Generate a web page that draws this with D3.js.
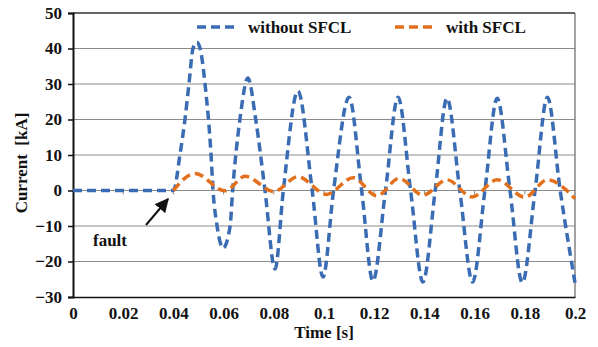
<!DOCTYPE html>
<html>
<head>
<meta charset="utf-8">
<script src="https://cdn.jsdelivr.net/npm/d3@7"></script>
<style>
  body { margin: 0; background: #fff; }
  text { font-family: "Liberation Serif", "Times New Roman", serif; font-weight: bold; fill: #111; }
</style>
</head>
<body>
<div id="viz"></div>
<script>
// data: [time s, current kA]
var seriesNames = ["without SFCL", "with SFCL"];
var seriesColors = ["#3a6cb4", "#e2701c"];

var withoutSFCL = [
	[0, 0], [0.04, 0], [0.0426, 10], [0.0446, 20], [0.0462, 30], [0.0478, 40], [0.0494, 41.8],
	[0.0512, 38], [0.0526, 30], [0.055, 10], [0.0558, 0], [0.0574, -10], [0.0598, -16.2],
	[0.0626, -10], [0.0636, 0], [0.0665, 20], [0.0697, 31.7], [0.0728, 20], [0.0765, 0],
	[0.0805, -22.1], [0.0838, 0], [0.0896, 28], [0.0953, 0], [0.0996, -24.4], [0.1038, 0],
	[0.1100, 26.3], [0.1150, 0], [0.1195, -25.5], [0.1245, 0], [0.1295, 26.3], [0.1345, 0],
	[0.1394, -25.8], [0.1443, 0], [0.149, 26], [0.1541, 0], [0.1592, -25.8], [0.1641, 0],
	[0.169, 26], [0.1741, 0], [0.179, -26], [0.1841, 0], [0.189, 26.3], [0.1941, 0], [0.2, -26]
];

var withSFCL = [
	[0.04, 0], [0.0486, 4.8], [0.0606, -0.1], [0.0686, 4.0], [0.0800, -0.3], [0.0896, 3.9],
	[0.1010, -1.1], [0.1116, 3.6], [0.1210, -1.5], [0.1300, 3.4], [0.1394, -1.3], [0.149, 3.0],
	[0.159, -1.8], [0.169, 3.0], [0.180, -1.9], [0.189, 3.0], [0.2, -2.3]
];

var xTicks = [0, 0.02, 0.04, 0.06, 0.08, 0.1, 0.12, 0.14, 0.16, 0.18, 0.2];
var yTicks = [-30, -20, -10, 0, 10, 20, 30, 40, 50];

function drawChart(){

	var width = 598, height = 347;
	var left = 73, right = 575, top = 13, bottom = 297;

	var svg = d3.select("#viz")
		.append("svg")
		.attr("width", width)
		.attr("height", height);

	var x = d3.scaleLinear().domain([0, 0.2]).range([left, right]);
	var y = d3.scaleLinear().domain([-30, 50]).range([bottom, top]);

	// horizontal grid lines
	svg.append("g")
		.selectAll("line")
		.data(yTicks.filter(function(d){ return d > -30 && d < 50; }))
		.enter().append("line")
		.attr("x1", left).attr("x2", right)
		.attr("y1", function(d){ return y(d); })
		.attr("y2", function(d){ return y(d); })
		.style("stroke", "#8c8c8c")
		.style("stroke-width", 1.2);

	// small ticks hanging under the zero line
	svg.append("g")
		.selectAll("line")
		.data(xTicks.slice(1, -1))
		.enter().append("line")
		.attr("x1", function(d){ return x(d); })
		.attr("x2", function(d){ return x(d); })
		.attr("y1", y(0)).attr("y2", y(0) + 4)
		.style("stroke", "#8c8c8c")
		.style("stroke-width", 1);

	// frame: top and right
	svg.append("line")
		.attr("x1", left).attr("x2", right).attr("y1", y(50)).attr("y2", y(50))
		.style("stroke", "#333").style("stroke-width", 1.5);
	svg.append("line")
		.attr("x1", right).attr("x2", right).attr("y1", top).attr("y2", bottom)
		.style("stroke", "#666").style("stroke-width", 1.2);

	// y axis
	var yAxis = d3.axisLeft(y).tickValues(yTicks).tickSize(5).tickPadding(6);
	var gy = svg.append("g").attr("transform", "translate(" + left + ",0)").call(yAxis);
	gy.select(".domain").style("stroke", "#111").style("stroke-width", 2);
	gy.selectAll(".tick line").style("stroke", "#111").style("stroke-width", 1.5);
	gy.selectAll(".tick text").style("font-size", "17px").style("font-family", "Liberation Serif").style("font-weight", "bold").attr("fill", "#111");

	// x axis
	var xAxis = d3.axisBottom(x).tickValues(xTicks).tickSize(0).tickPadding(10)
		.tickFormat(function(d){ return d3.format("~g")(d); });
	var gx = svg.append("g").attr("transform", "translate(0," + bottom + ")").call(xAxis);
	gx.select(".domain").style("stroke", "#111").style("stroke-width", 1.5);
	gx.selectAll(".tick text").style("font-size", "17px").style("font-family", "Liberation Serif").style("font-weight", "bold").attr("fill", "#111");

	// axis titles
	svg.append("text")
		.attr("x", (left + right) / 2).attr("y", 338)
		.attr("text-anchor", "middle")
		.style("font-size", "17px")
		.text("Time [s]");
	svg.append("text")
		.attr("transform", "translate(27,163) rotate(-90)")
		.attr("text-anchor", "middle")
		.style("font-size", "17px")
		.style("white-space", "pre")
		.text("Current  [kA]");

	// series
	var line = d3.line()
		.x(function(d){ return x(d[0]); })
		.y(function(d){ return y(d[1]); })
		.curve(d3.curveMonotoneX);

	[withoutSFCL, withSFCL].forEach(function(data, i){
		svg.append("path")
			.datum(data)
			.attr("d", line)
			.style("fill", "none")
			.style("stroke", seriesColors[i])
			.style("stroke-width", 3.5)
			.style("stroke-dasharray", "9,5");
	});

	// legend
	var legendX = [197, 395];
	seriesNames.forEach(function(name, i){
		svg.append("line")
			.attr("x1", legendX[i]).attr("x2", legendX[i] + 42)
			.attr("y1", 27).attr("y2", 27)
			.style("stroke", seriesColors[i])
			.style("stroke-width", 3.5)
			.style("stroke-dasharray", "9,5");
		svg.append("text")
			.attr("x", legendX[i] + 51).attr("y", 33)
			.style("font-size", "17px")
			.text(name);
	});

	// fault annotation
	svg.append("defs").append("marker")
		.attr("id", "arrowHead")
		.attr("viewBox", "0 0 10 10")
		.attr("refX", 9).attr("refY", 5)
		.attr("markerWidth", 7).attr("markerHeight", 7)
		.attr("orient", "auto")
		.append("path")
		.attr("d", "M0,0 L10,5 L0,10 z")
		.style("fill", "#111");
	svg.append("line")
		.attr("x1", 146).attr("y1", 225)
		.attr("x2", 168).attr("y2", 199)
		.style("stroke", "#111").style("stroke-width", 2)
		.attr("marker-end", "url(#arrowHead)");
	svg.append("text")
		.attr("x", 93).attr("y", 246)
		.style("font-size", "17px")
		.text("fault");
}

drawChart();
</script>
</body>
</html>
